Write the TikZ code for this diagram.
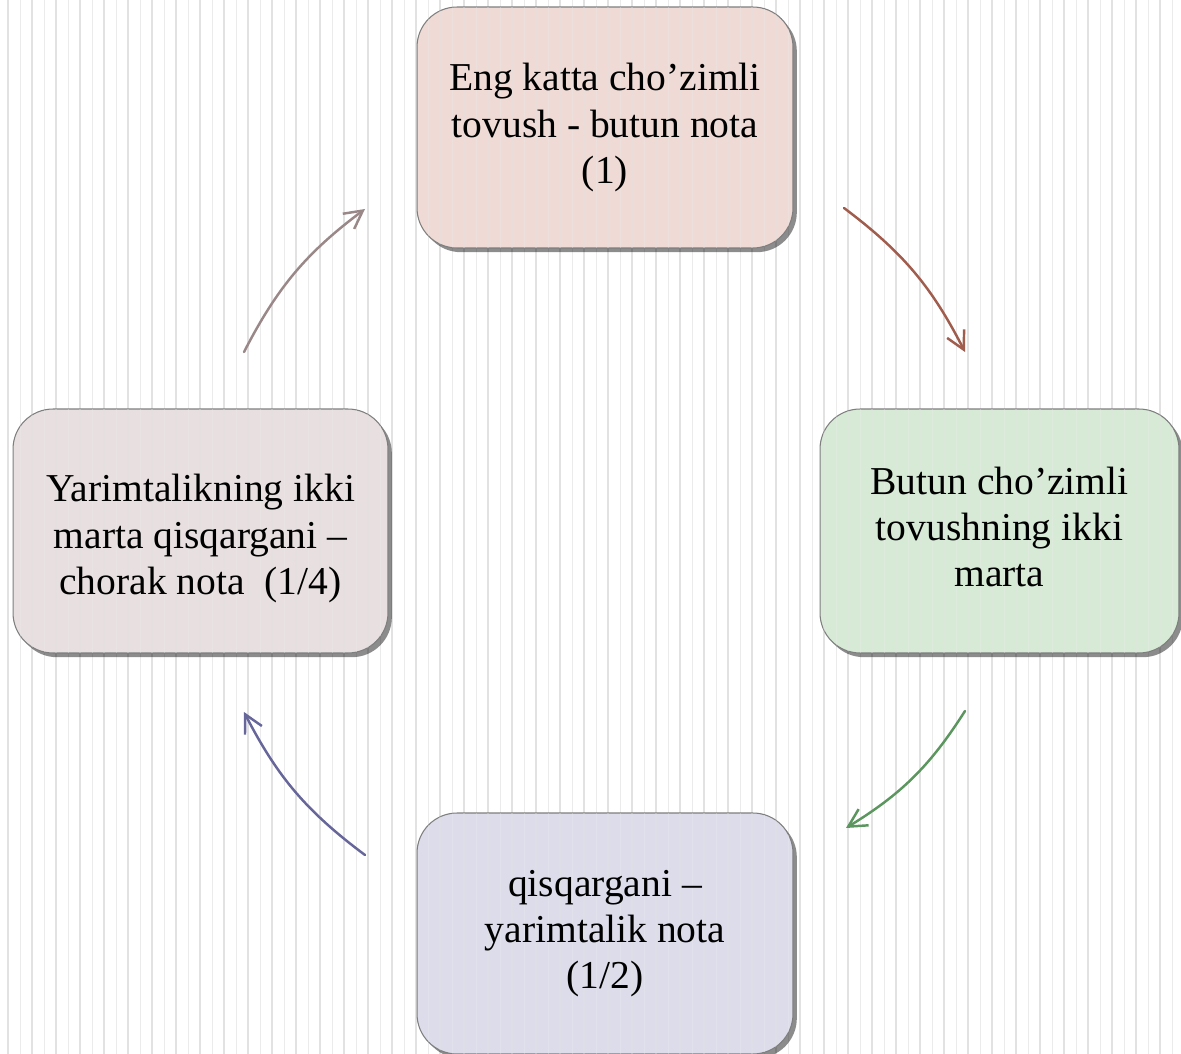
\documentclass[tikz,border=0pt]{standalone}
\usepackage{fontspec}
\setmainfont{Liberation Serif}
\usetikzlibrary{arrows.meta,shadows}
\definecolor{stripeA}{HTML}{E2E2E2}
\definecolor{stripeB}{HTML}{EBEBEB}
\definecolor{fillTop}{HTML}{EFDAD5}
\definecolor{fillRight}{HTML}{D6EAD6}
\definecolor{fillBottom}{HTML}{DCDCEB}
\definecolor{fillLeft}{HTML}{E8E0E0}
\definecolor{arBrown}{HTML}{A05C4C}
\definecolor{arGreen}{HTML}{5C965F}
\definecolor{arPurple}{HTML}{66669A}
\definecolor{arGray}{HTML}{9A8888}
\definecolor{boxBorder}{HTML}{7E7E7E}
\tikzset{
  cardbox/.style={draw=boxBorder, line width=0.6pt, rounded corners=0.8cm,
    inner sep=0pt, outer sep=0pt,
    drop shadow={shadow xshift=2.2pt, shadow yshift=-2.4pt, opacity=0.45, fill=black}},
  cardtext/.style={align=center, text=black, inner sep=0pt,
    font=\fontsize{22.5}{26.2}\selectfont},
  cyclearrow/.style={line width=1.4pt, line cap=round,
    -{Straight Barb[length=3.6mm,width=3.8mm,line width=1.4pt]}, bend left=13}
}
\newcommand{\boxstripes}{%
  \foreach \sx in {8,32,...,1180} {\draw[stripeA, line width=1.1pt] (\sx,0) -- (\sx,1054);}
  \foreach \sx in {20,44,...,1180} {\draw[stripeB, line width=0.55pt] (\sx,0) -- (\sx,1054);}
}
\begin{document}
\begin{tikzpicture}[x=0.02cm, y=-0.02cm]
\useasboundingbox (0,0) rectangle (1181,1054);
\fill[white] (0,0) rectangle (1181,1054);
\boxstripes

% boxes
\node[cardbox, fill=fillTop, minimum width=7.52cm, minimum height=4.82cm] (top) at (605,127.5) {};
\node[cardbox, fill=fillRight, minimum width=7.18cm, minimum height=4.88cm] (right) at (999.5,531) {};
\node[cardbox, fill=fillBottom, minimum width=7.52cm, minimum height=4.82cm] (bottom) at (605,933.5) {};
\node[cardbox, fill=fillLeft, minimum width=7.5cm, minimum height=4.88cm] (left) at (200.5,531) {};

% faint stripes seen through the boxes
\foreach \b in {top,right,bottom,left} {
  \begin{scope}
    \clip[rounded corners=0.8cm] (\b.south west) rectangle (\b.north east);
    \begin{scope}[opacity=0.35]
      \boxstripes
    \end{scope}
  \end{scope}
}

% texts
\node[cardtext] (toptext) at (top) {Eng katta cho’zimli\\tovush - butun nota\\(1)};
\node[cardtext] (righttext) at ([yshift=0.08cm]right.center) {Butun cho’zimli\\tovushning ikki\\marta};
\node[cardtext] (bottomtext) at (bottom) {qisqargani –\\yarimtalik nota\\(1/2)};
\node[cardtext] (lefttext) at ([yshift=-0.15cm]left.center) {Yarimtalikning ikki\\marta qisqargani –\\chorak nota~ (1/4)};

% arrow end points
\coordinate (a1s) at (844,208);  \coordinate (a1e) at (965,352);
\coordinate (a2s) at (965,711);  \coordinate (a2e) at (846,828);
\coordinate (a3s) at (365,855);  \coordinate (a3e) at (244,712);
\coordinate (a4s) at (244,352);  \coordinate (a4e) at (365,209);

\draw[cyclearrow, arBrown] (a1s) to (a1e);
\draw[cyclearrow, arGreen] (a2s) to (a2e);
\draw[cyclearrow, arPurple] (a3s) to (a3e);
\draw[cyclearrow, arGray] (a4s) to (a4e);
\end{tikzpicture}
\end{document}
